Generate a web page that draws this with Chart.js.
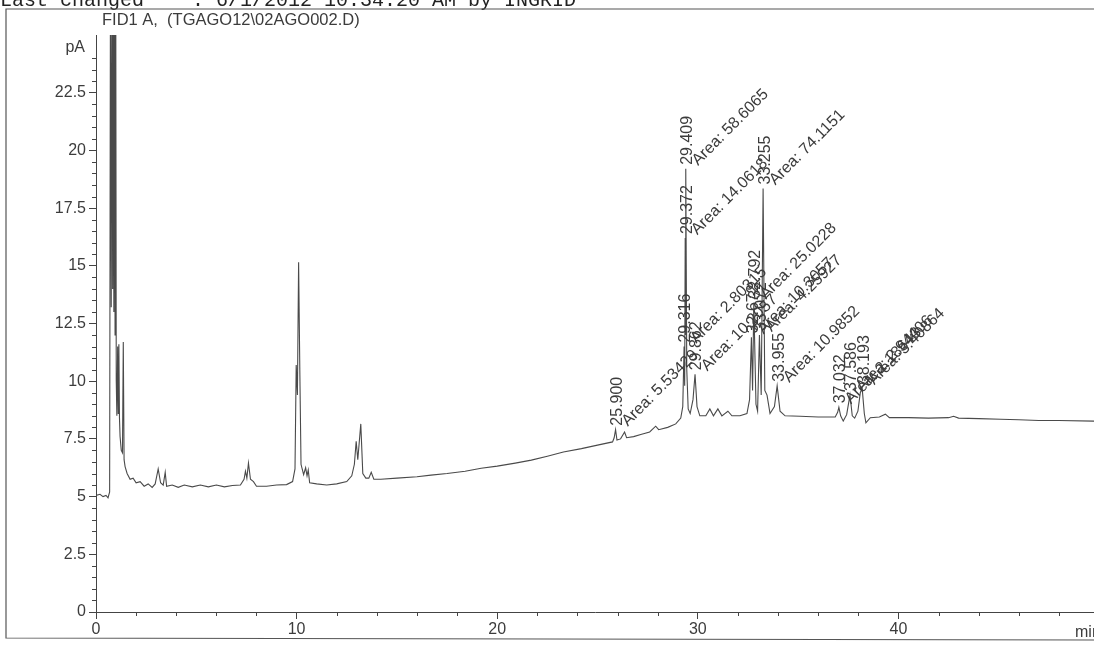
<!DOCTYPE html>
<html>
<head>
<meta charset="utf-8">
<script src="https://cdn.jsdelivr.net/npm/chart.js@4.4.0/dist/chart.umd.min.js"></script>
<style>
  html, body { margin: 0; padding: 0; background: #fff; }
  canvas { display: block; }
</style>
</head>
<body>
<canvas id="fid-chart" width="1094" height="645"></canvas>
<script>
// ===== trace: retention time (min) / signal (pA) =====
const traceTimes = [
    0, 0.2, 0.35, 0.5, 0.6, 0.68, 0.72, 0.76, 0.8, 0.83, 0.86, 0.89, 0.92, 0.95, 0.98, 1.01,
    1.04, 1.08, 1.11, 1.14, 1.17, 1.2, 1.26, 1.32, 1.36, 1.4, 1.45, 1.55, 1.7, 1.85,
    2.0, 2.2, 2.4, 2.6, 2.8, 2.95, 3.1, 3.22, 3.35, 3.45, 3.52, 3.8, 4.1, 4.4, 4.8,
    5.2, 5.6, 6.0, 6.4, 6.8, 7.2, 7.38, 7.45, 7.52, 7.6, 7.7, 7.85, 8.0, 8.5, 9.0, 9.5,
    9.8, 9.92, 9.98, 10.04, 10.1, 10.16, 10.22, 10.35, 10.45, 10.52, 10.58, 10.65,
    11.0, 11.5, 12.0, 12.5, 12.75, 12.88, 12.97, 13.05, 13.2, 13.3, 13.45, 13.6, 13.72, 13.85,
    14.2, 15.0, 16.0, 16.7, 17.5, 18.4, 19.2, 20.0, 20.9, 21.7, 22.5, 23.3, 24.2, 25.0,
    25.75, 25.83, 25.9, 25.97, 26.15, 26.35, 26.45, 26.8, 27.2, 27.6, 27.9, 28.05, 28.5, 28.9,
    29.15, 29.25, 29.316, 29.345, 29.372, 29.39, 29.409, 29.45, 29.52, 29.62, 29.76, 29.862,
    29.96, 30.1, 30.4, 30.6, 30.78, 31.0, 31.2, 31.5, 31.7, 32.1, 32.45, 32.58, 32.672, 32.73,
    32.792, 32.9, 32.98, 33.072, 33.16, 33.255, 33.34, 33.45, 33.6, 33.82, 33.955, 34.1, 34.35,
    35.1, 36.0, 36.85, 36.97, 37.032, 37.12, 37.25, 37.42, 37.586, 37.7, 37.82, 37.98, 38.1,
    38.193, 38.3, 38.38, 38.6, 39.05, 39.35, 39.55, 40.5, 41.5, 42.5, 42.75, 43.0, 44.0,
    45.1, 46.0, 47.0, 48.0, 49.75
];
const traceValues = [
    5.05, 5.1, 5.0, 5.05, 4.95, 5.2, 27, 13.2, 30, 14, 30, 13, 30, 12, 30, 10,
    8.5, 11.5, 8.6, 11.6, 8.4, 7.6, 7.0, 6.9, 11.7, 6.6, 6.3, 6.0, 5.75, 5.8,
    5.6, 5.65, 5.45, 5.55, 5.4, 5.55, 6.2, 5.6, 5.5, 6.05, 5.45, 5.5, 5.4, 5.5, 5.42,
    5.5, 5.42, 5.5, 5.42, 5.48, 5.5, 5.75, 6.1, 5.8, 6.45, 5.75, 5.65, 5.45, 5.45, 5.5, 5.52,
    5.65, 6.2, 10.7, 9.4, 15.15, 10.5, 6.4, 5.95, 6.25, 5.9, 6.15, 5.6,
    5.55, 5.5, 5.55, 5.65, 5.9, 6.4, 7.4, 6.6, 8.15, 6.0, 5.8, 5.8, 6.05, 5.75,
    5.75, 5.8, 5.86, 5.93, 6.0, 6.1, 6.23, 6.32, 6.45, 6.58, 6.75, 6.93, 7.08, 7.23,
    7.37, 7.55, 7.9, 7.45, 7.5, 7.8, 7.55, 7.6, 7.7, 7.8, 8.05, 7.9, 8.0, 8.15,
    8.4, 8.9, 11.5, 9.8, 16.2, 12.0, 19.2, 10.5, 8.8, 8.6, 9.2, 10.3,
    8.9, 8.5, 8.5, 8.8, 8.5, 8.8, 8.5, 8.7, 8.5, 8.5, 8.6, 9.2, 11.9, 9.6,
    13.4, 9.0, 8.7, 12.0, 9.4, 18.35, 9.6, 9.4, 8.6, 8.9, 9.8, 8.7, 8.5,
    8.48, 8.45, 8.45, 8.65, 8.87, 8.5, 8.27, 8.55, 9.4, 8.5, 8.4, 8.7, 9.5,
    9.7, 8.6, 8.2, 8.42, 8.45, 8.57, 8.42, 8.42, 8.4, 8.42, 8.48, 8.4, 8.38,
    8.35, 8.33, 8.3, 8.3, 8.27
];

// ===== integration results printed next to each peak =====
const peakTimes = [25.900, 29.316, 29.372, 29.409, 29.862, 32.672, 32.792, 33.072, 33.255, 33.955, 37.032, 37.586, 38.193];
const peakLabels = ['25.900', '29.316', '29.372', '29.409', '29.862', '32.672', '32.792', '33.072', '33.255', '33.955', '37.032', '37.586', '38.193'];
const peakAreas = ['Area: 5.53429', 'Area: 2.80315', 'Area: 14.0618', 'Area: 58.6065', 'Area: 10.2057', 'Area: 10.3057',
    'Area: 25.0228', 'Area: 4.25927', 'Area: 74.1151', 'Area: 10.9852', 'Area: 2.18643', 'Area: 2.94406', 'Area: 3.40864'];

// ===== axes =====
const yTickValues = [0, 2.5, 5, 7.5, 10, 12.5, 15, 17.5, 20, 22.5];
const xTickValues = [0, 10, 20, 30, 40];
const yUnit = 'pA';
const xUnit = 'min';
const signalTitle = 'FID1 A,  (TGAGO12\\02AGO002.D)';
const headerText = 'Last changed    : 6/1/2012 10:34:20 AM by INGRID';

const INK = '#3c3c3c';
const FONT = '"Liberation Sans", Arial, sans-serif';

// ---- everything that is not the trace: frame, header, minor ticks, peak labels ----
const printoutPlugin = {
    id: 'printout',
    beforeDraw(chart) {
        const c = chart.ctx;
        c.save();
        c.fillStyle = '#fff';
        c.fillRect(0, 0, chart.width, chart.height);
        // header line, mostly cut off at the top of the scan
        c.fillStyle = '#222';
        c.font = '20px "Liberation Mono", "Courier New", monospace';
        c.textBaseline = 'alphabetic';
        c.fillText(headerText, 0, 6);
        // frame
        c.strokeStyle = '#555';
        c.lineWidth = 1.2;
        c.beginPath();
        c.moveTo(chart.width + 2, 9);
        c.lineTo(6, 9);
        c.lineTo(6, 638);
        c.lineTo(chart.width + 2, 640);
        c.stroke();
        // signal title
        c.fillStyle = INK;
        c.font = '16.5px ' + FONT;
        c.fillText(signalTitle, 102, 25);
        c.restore();
    },
    afterDraw(chart) {
        const c = chart.ctx;
        const xs = chart.scales.x, ys = chart.scales.y;
        const area = chart.chartArea;
        c.save();
        c.strokeStyle = '#444';
        c.lineWidth = 1;
        // minor ticks
        c.beginPath();
        for (let v = 0.5; v <= 25; v += 0.5) {
            if (Math.abs(v / 2.5 - Math.round(v / 2.5)) < 1e-6 || Math.abs(v - 24.5) < 1e-6) continue;
            const py = Math.round(ys.getPixelForValue(v)) + 0.5;
            c.moveTo(area.left - 4, py);
            c.lineTo(area.left, py);
        }
        for (let m = 2; m < 50; m += 2) {
            if (m % 10 === 0) continue;
            const px = Math.round(xs.getPixelForValue(m)) + 0.5;
            c.moveTo(px, area.bottom);
            c.lineTo(px, area.bottom + 4);
        }
        c.stroke();
        // unit labels
        c.fillStyle = INK;
        c.font = '16px ' + FONT;
        c.textAlign = 'right';
        c.textBaseline = 'middle';
        c.fillText(yUnit, area.left - 11, ys.getPixelForValue(24.45));
        c.textAlign = 'left';
        c.fillText(xUnit, 1075, area.bottom + 21);
        // peak annotations: retention time standing up, area at 45 degrees
        c.font = '16px ' + FONT;
        peakTimes.forEach((t, i) => {
            const idx = traceTimes.indexOf(t);
            const px = xs.getPixelForValue(t);
            const py = ys.getPixelForValue(traceValues[idx]);
            c.save();
            c.translate(px + 2, py - 4);
            c.rotate(-Math.PI / 2);
            c.textAlign = 'left';
            c.textBaseline = 'middle';
            c.fillText(peakLabels[i], 0, 0);
            c.restore();
            c.save();
            c.translate(px + 9, py - 6);
            c.rotate(-Math.PI / 4);
            c.textAlign = 'left';
            c.textBaseline = 'middle';
            c.fillText(peakAreas[i], 0, 0);
            c.restore();
        });
        c.restore();
    }
};

const ctx = document.getElementById('fid-chart').getContext('2d');
new Chart(ctx, {
    type: 'line',
    data: {
        datasets: [{
            data: traceTimes.map((t, i) => ({ x: t, y: traceValues[i] })),
            borderColor: '#4a4a4a',
            borderWidth: 1.1,
            pointRadius: 0,
            tension: 0,
            fill: false
        }]
    },
    options: {
        responsive: false,
        animation: false,
        devicePixelRatio: 1,
        layout: { padding: { top: 35, right: 0, bottom: 0, left: 0 } },
        plugins: { legend: { display: false }, tooltip: { enabled: false } },
        scales: {
            x: {
                type: 'linear',
                min: 0,
                max: 49.75,
                afterBuildTicks: s => { s.ticks = xTickValues.map(v => ({ value: v })); },
                afterFit: s => { s.height = 33; },
                ticks: { color: INK, font: { family: FONT, size: 16 }, padding: 1, maxRotation: 0, autoSkip: false },
                grid: { drawOnChartArea: false, tickLength: 7, color: '#444' },
                border: { color: '#444', width: 1 }
            },
            y: {
                min: 0,
                max: 25,
                afterBuildTicks: s => { s.ticks = yTickValues.map(v => ({ value: v })); },
                afterFit: s => { s.width = 96; },
                ticks: { color: INK, font: { family: FONT, size: 16 }, padding: 3, autoSkip: false },
                grid: { drawOnChartArea: false, tickLength: 7, color: '#444' },
                border: { color: '#444', width: 1 }
            }
        }
    },
    plugins: [printoutPlugin]
});
</script>
</body>
</html>
